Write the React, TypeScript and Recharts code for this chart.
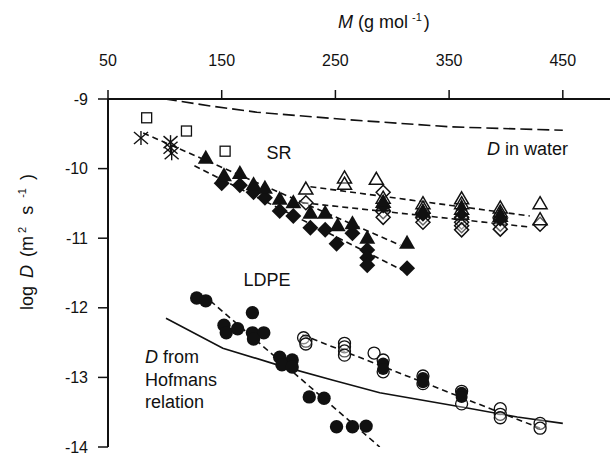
import React from 'react';
import { ComposedChart, XAxis, YAxis, Scatter, Line } from 'recharts';

const FONT = '"Liberation Sans", Arial, sans-serif';
const INK = '#111';

// axis ticks
const xTicks = [50, 150, 250, 350, 450];
const yTicks = [-14, -13, -12, -11, -10, -9];

// silicone rubber (SR) measurements, M in g/mol, D as log10
const srSquares = [{ m: 84, d: -9.27 }, { m: 119, d: -9.46 }, { m: 153, d: -9.75 }];
const srStars = [{ m: 79, d: -9.56 }, { m: 105, d: -9.62 }, { m: 105, d: -9.7 }, { m: 106, d: -9.78 }];
const srFilledTri = [
  { m: 136, d: -9.83 }, { m: 152, d: -10.08 }, { m: 166, d: -10.05 }, { m: 178, d: -10.21 },
  { m: 188, d: -10.26 }, { m: 201, d: -10.42 }, { m: 213, d: -10.47 }, { m: 228, d: -10.62 },
  { m: 241, d: -10.62 }, { m: 252, d: -10.8 }, { m: 265, d: -10.77 }, { m: 278, d: -10.98 },
  { m: 313, d: -11.05 },
];
const srFilledDia = [
  { m: 150, d: -10.21 }, { m: 166, d: -10.24 }, { m: 178, d: -10.34 }, { m: 188, d: -10.42 },
  { m: 201, d: -10.61 }, { m: 213, d: -10.68 }, { m: 228, d: -10.85 }, { m: 241, d: -10.88 },
  { m: 251, d: -11.08 }, { m: 265, d: -10.93 }, { m: 278, d: -11.17 }, { m: 278, d: -11.28 },
  { m: 278, d: -11.39 }, { m: 313, d: -11.43 },
];
// dense replicate clusters in the SR PCB columns
const srDarkTri = [{ m: 292, d: -10.46 }, { m: 327, d: -10.58 }, { m: 361, d: -10.52 }, { m: 395, d: -10.62 }];
const srDarkDia = [{ m: 292, d: -10.55 }, { m: 327, d: -10.67 }, { m: 361, d: -10.66 }, { m: 395, d: -10.74 }];
const srOpenTri = [
  { m: 224, d: -10.28 }, { m: 258, d: -10.12 }, { m: 258, d: -10.21 }, { m: 286, d: -10.14 },
  { m: 292, d: -10.41 }, { m: 292, d: -10.47 }, { m: 292, d: -10.52 },
  { m: 327, d: -10.49 }, { m: 327, d: -10.55 }, { m: 327, d: -10.61 },
  { m: 361, d: -10.42 }, { m: 361, d: -10.49 }, { m: 361, d: -10.57 }, { m: 361, d: -10.64 },
  { m: 395, d: -10.55 }, { m: 395, d: -10.61 }, { m: 395, d: -10.67 },
  { m: 430, d: -10.49 }, { m: 430, d: -10.72 },
];
const srOpenDia = [
  { m: 224, d: -10.49 }, { m: 292, d: -10.34 }, { m: 292, d: -10.62 }, { m: 292, d: -10.7 },
  { m: 327, d: -10.64 }, { m: 327, d: -10.71 }, { m: 327, d: -10.77 },
  { m: 361, d: -10.7 }, { m: 361, d: -10.77 }, { m: 361, d: -10.82 }, { m: 361, d: -10.88 },
  { m: 395, d: -10.72 }, { m: 395, d: -10.8 }, { m: 395, d: -10.87 }, { m: 430, d: -10.8 },
];

// LDPE measurements
const ldpeFilled = [
  { m: 128, d: -11.86 }, { m: 136, d: -11.9 }, { m: 177, d: -12.07 }, { m: 152, d: -12.25 },
  { m: 154, d: -12.36 }, { m: 164, d: -12.3 }, { m: 177, d: -12.36 }, { m: 187, d: -12.36 },
  { m: 178, d: -12.45 }, { m: 201, d: -12.71 }, { m: 212, d: -12.75 }, { m: 203, d: -12.82 },
  { m: 212, d: -12.85 }, { m: 227, d: -13.28 }, { m: 240, d: -13.3 }, { m: 251, d: -13.71 },
  { m: 265, d: -13.71 }, { m: 277, d: -13.7 },
];
const ldpeDark = [
  { m: 292, d: -12.8 }, { m: 292, d: -12.88 }, { m: 327, d: -13.01 },
  { m: 327, d: -13.07 }, { m: 361, d: -13.22 }, { m: 361, d: -13.28 },
];
const ldpeOpen = [
  { m: 222, d: -12.43 }, { m: 224, d: -12.48 }, { m: 224, d: -12.52 },
  { m: 258, d: -12.51 }, { m: 258, d: -12.56 }, { m: 258, d: -12.62 }, { m: 258, d: -12.68 },
  { m: 284, d: -12.65 },
  { m: 292, d: -12.75 }, { m: 292, d: -12.92 },
  { m: 327, d: -12.98 }, { m: 327, d: -13.09 },
  { m: 361, d: -13.2 }, { m: 361, d: -13.38 },
  { m: 395, d: -13.45 }, { m: 395, d: -13.53 }, { m: 395, d: -13.58 },
  { m: 430, d: -13.66 }, { m: 430, d: -13.73 },
];

// fitted / modelled lines
const fitSrTri = [{ m: 81, d: -9.49 }, { m: 307, d: -11.1 }];
const fitSrDia = [{ m: 126, d: -9.96 }, { m: 309, d: -11.46 }];
const fitSrOpenTri = [{ m: 228, d: -10.26 }, { m: 421, d: -10.68 }];
const fitSrOpenDia = [{ m: 221, d: -10.49 }, { m: 421, d: -10.84 }];
const fitLdpeFilled = [{ m: 140, d: -11.9 }, { m: 289, d: -14.0 }];
const fitLdpeOpen = [{ m: 221, d: -12.39 }, { m: 430, d: -13.73 }];
const water = [
  { m: 100, d: -9.0 }, { m: 140, d: -9.1 }, { m: 181, d: -9.19 },
  { m: 263, d: -9.3 }, { m: 351, d: -9.4 }, { m: 450, d: -9.45 },
];
const hofmans = [
  { m: 101, d: -12.15 }, { m: 151, d: -12.58 }, { m: 199, d: -12.82 }, { m: 248, d: -13.04 },
  { m: 289, d: -13.22 }, { m: 366, d: -13.44 }, { m: 410, d: -13.57 }, { m: 450, d: -13.66 },
];

// marker shapes
const triPath = (cx: number, cy: number, w: number, h: number) =>
  `M${cx},${cy - h / 2} L${cx + w / 2},${cy + h / 2} L${cx - w / 2},${cy + h / 2} Z`;
const diaPath = (cx: number, cy: number, r: number) =>
  `M${cx},${cy - r} L${cx + r},${cy} L${cx},${cy + r} L${cx - r},${cy} Z`;

const FilledTri = ({ cx, cy }: any) => <path d={triPath(cx, cy, 16, 14)} fill={INK} />;
const FilledDia = ({ cx, cy }: any) => <path d={diaPath(cx, cy, 8)} fill={INK} />;
const OpenTri = ({ cx, cy }: any) => (
  <path d={triPath(cx, cy, 14, 12)} fill="#fff" fillOpacity={0.35} stroke={INK} strokeWidth={1.5} />
);
const OpenDia = ({ cx, cy }: any) => (
  <path d={diaPath(cx, cy, 7)} fill="#fff" fillOpacity={0.35} stroke={INK} strokeWidth={1.5} />
);
const OpenSquare = ({ cx, cy }: any) => (
  <rect x={cx - 5} y={cy - 5} width={10} height={10} fill="none" stroke={INK} strokeWidth={1.3} />
);
const Star = ({ cx, cy }: any) => (
  <g stroke={INK} strokeWidth={1.4}>
    <line x1={cx} y1={cy - 7} x2={cx} y2={cy + 7} />
    <line x1={cx - 7} y1={cy - 6} x2={cx + 7} y2={cy + 6} />
    <line x1={cx - 7} y1={cy + 6} x2={cx + 7} y2={cy - 6} />
  </g>
);
const FilledCircle = ({ cx, cy }: any) => <circle cx={cx} cy={cy} r={6.7} fill={INK} />;
const DarkCircle = ({ cx, cy }: any) => <circle cx={cx} cy={cy} r={6} fill={INK} />;
const OpenCircle = ({ cx, cy }: any) => (
  <circle cx={cx} cy={cy} r={6} fill="#fff" fillOpacity={0.3} stroke={INK} strokeWidth={1.3} />
);
const SmallTri = ({ cx, cy }: any) => <path d={triPath(cx, cy, 12, 12)} fill={INK} />;
const SmallDia = ({ cx, cy }: any) => <path d={diaPath(cx, cy, 6.5)} fill={INK} />;

const fitLine = (data: any[], key: string, dash = '6 4') => (
  <Line
    key={key}
    data={data}
    dataKey="d"
    type="linear"
    stroke={INK}
    strokeWidth={1.6}
    strokeDasharray={dash}
    dot={false}
    activeDot={false}
    isAnimationActive={false}
  />
);

const textStyle = { fontFamily: FONT, fill: INK };

const App = () => (
  <div style={{ position: 'absolute', left: 0, top: 0, width: 610, height: 454, background: '#fff' }}>
    <ComposedChart width={610} height={454} margin={{ top: 0, right: 0, left: 0, bottom: 7 }}>
      <XAxis
        type="number"
        dataKey="m"
        orientation="top"
        domain={[50, 491.5]}
        ticks={xTicks}
        interval={0}
        height={99}
        allowDataOverflow
        tickSize={9}
        tickMargin={24}
        axisLine={{ stroke: INK, strokeWidth: 2 }}
        tickLine={{ stroke: INK, strokeWidth: 1.5 }}
        tick={{ fill: INK, fontSize: 16, fontFamily: FONT }}
      />
      <YAxis
        type="number"
        dataKey="d"
        domain={[-14, -9]}
        ticks={yTicks}
        interval={0}
        width={108}
        allowDataOverflow
        tickSize={10}
        tickMargin={10}
        axisLine={{ stroke: INK, strokeWidth: 2 }}
        tickLine={{ stroke: INK, strokeWidth: 1.5 }}
        tick={{ fill: INK, fontSize: 16, fontFamily: FONT }}
      />
      {fitLine(water, 'water', '12 5')}
      <Line
        data={hofmans}
        dataKey="d"
        type="linear"
        stroke={INK}
        strokeWidth={1.6}
        dot={false}
        activeDot={false}
        isAnimationActive={false}
      />
      {fitLine(fitSrTri, 'srTri')}
      {fitLine(fitSrDia, 'srDia')}
      {fitLine(fitSrOpenTri, 'srOpenTri')}
      {fitLine(fitSrOpenDia, 'srOpenDia')}
      {fitLine(fitLdpeFilled, 'ldpeFilled')}
      {fitLine(fitLdpeOpen, 'ldpeOpen')}
      <Scatter data={srSquares} shape={OpenSquare} isAnimationActive={false} />
      <Scatter data={srStars} shape={Star} isAnimationActive={false} />
      <Scatter data={srFilledDia} shape={FilledDia} isAnimationActive={false} />
      <Scatter data={srFilledTri} shape={FilledTri} isAnimationActive={false} />
      <Scatter data={srOpenDia} shape={OpenDia} isAnimationActive={false} />
      <Scatter data={srOpenTri} shape={OpenTri} isAnimationActive={false} />
      <Scatter data={srDarkDia} shape={SmallDia} isAnimationActive={false} />
      <Scatter data={srDarkTri} shape={SmallTri} isAnimationActive={false} />
      <Scatter data={ldpeFilled} shape={FilledCircle} isAnimationActive={false} />
      <Scatter data={ldpeOpen} shape={OpenCircle} isAnimationActive={false} />
      <Scatter data={ldpeDark} shape={DarkCircle} isAnimationActive={false} />
    </ComposedChart>
    <svg width={610} height={454} style={{ position: 'absolute', left: 0, top: 0, pointerEvents: 'none' }}>
      <text x={338} y={28} fontSize={18} {...textStyle}>
        <tspan fontStyle="italic">M</tspan>
        <tspan dx={5}>(g mol</tspan>
        <tspan dx={4} dy={-7} fontSize={11}>-1</tspan>
        <tspan dx={2} dy={7}>)</tspan>
      </text>
      <text transform="translate(33,240) rotate(-90)" x={-70} y={0} fontSize={18} {...textStyle}>
        <tspan>log</tspan>
        <tspan dx={8} fontStyle="italic">D</tspan>
        <tspan dx={8}>(m</tspan>
        <tspan dx={3} dy={-7} fontSize={11}>2</tspan>
        <tspan dx={12} dy={7}>s</tspan>
        <tspan dx={8} dy={-7} fontSize={11}>-1</tspan>
        <tspan dx={8} dy={7}>)</tspan>
      </text>
      <text x={279} y={159} textAnchor="middle" fontSize={18} {...textStyle}>SR</text>
      <text x={267} y={286} textAnchor="middle" fontSize={18} {...textStyle}>LDPE</text>
      <text x={487} y={155} fontSize={18} {...textStyle}>
        <tspan fontStyle="italic">D</tspan> in water
      </text>
      <text x={145} y={363} fontSize={18} {...textStyle}>
        <tspan fontStyle="italic">D</tspan> from
      </text>
      <text x={145} y={385.5} fontSize={18} {...textStyle}>Hofmans</text>
      <text x={145} y={408} fontSize={18} {...textStyle}>relation</text>
    </svg>
  </div>
);

export default App;
